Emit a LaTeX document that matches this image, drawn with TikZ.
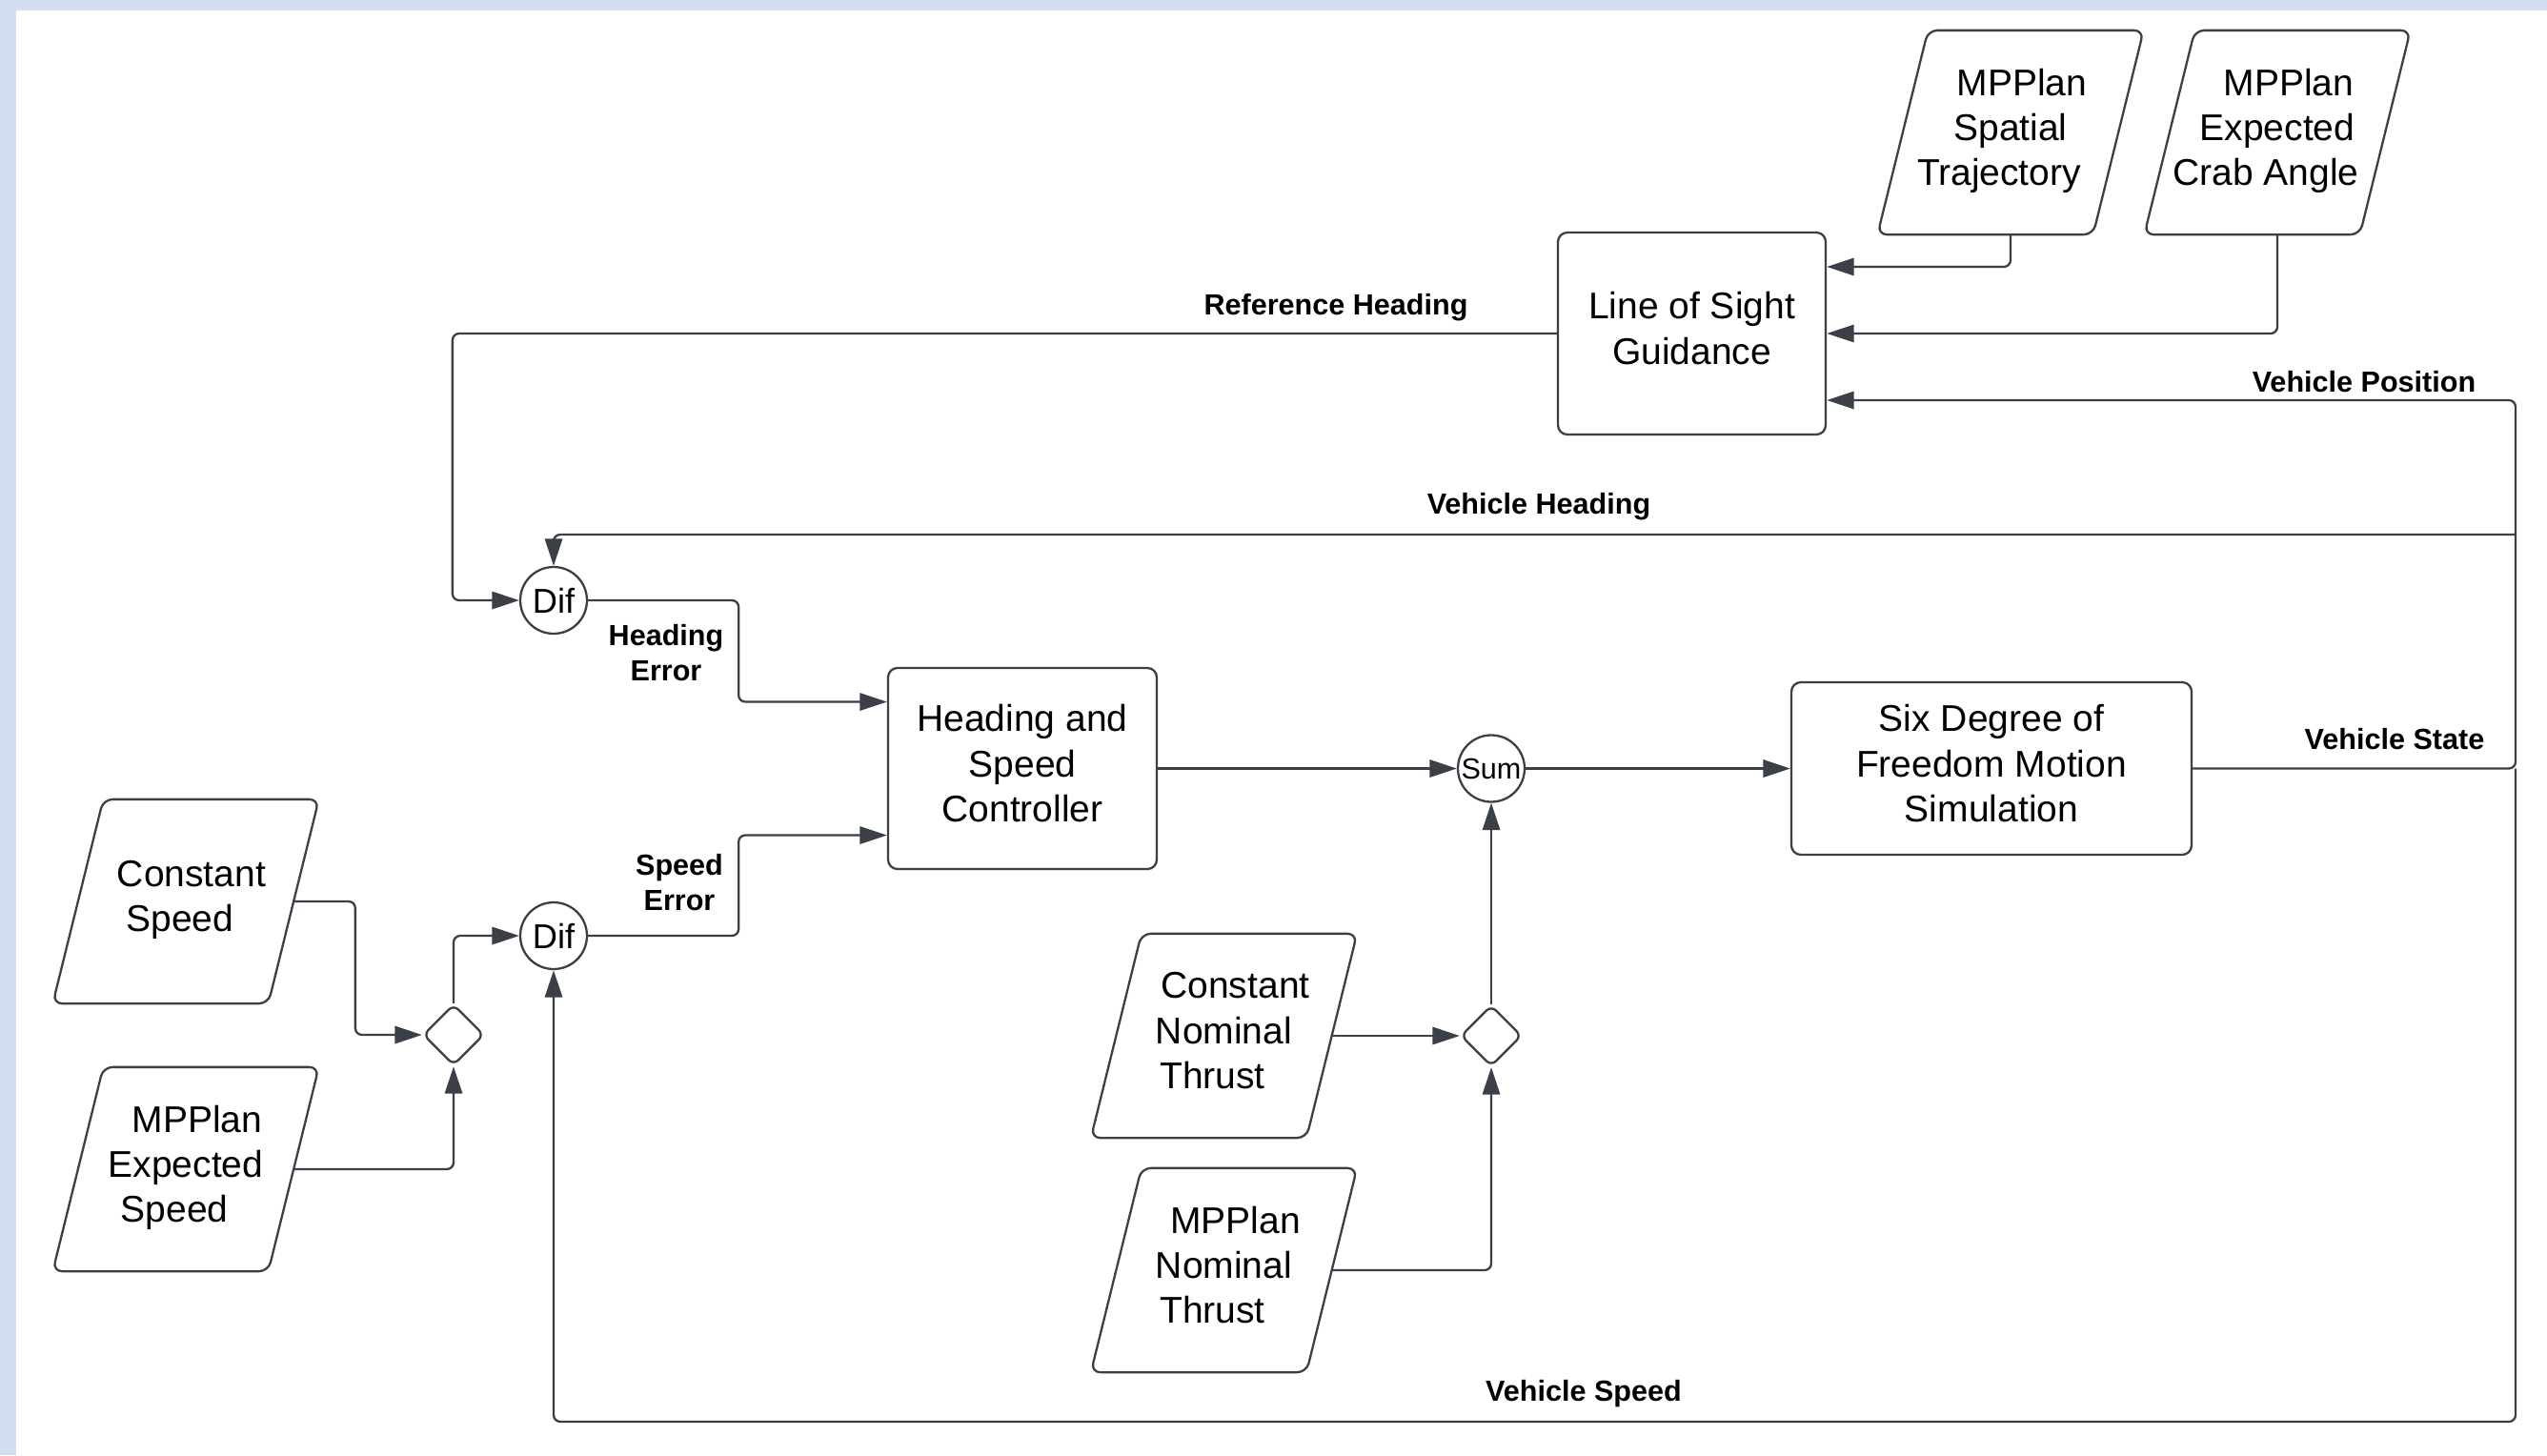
\documentclass[tikz,border=0pt]{standalone}
\usepackage{fontspec}
\setmainfont{Liberation Sans}
\usetikzlibrary{shapes.geometric,arrows.meta,calc}
\definecolor{edge}{RGB}{58,63,72}
\definecolor{frame}{RGB}{211,222,240}
% lines of a slanted box follow the slant
\newcommand{\fwd}[2][0.12cm]{\rlap{\hspace*{#1}#2}\phantom{#2}}
\newcommand{\bwd}[2][0.12cm]{\phantom{#2}\llap{#2\hspace*{#1}}}

\begin{document}
\begin{tikzpicture}[
  line width=0.65pt,
  label text/.style={align=center, text depth=3.2pt, font=\fontsize{11.1}{13.4}\selectfont},
  block/.style={label text, draw=edge, rounded corners=2.8pt},
  io/.style={label text, minimum width=2.24cm, minimum height=2.12cm, inner sep=0pt},
  joint/.style={draw=edge, circle, minimum size=0.70cm, inner sep=0pt, font=\fontsize{10.3}{12}\selectfont},
  merge/.style={draw=edge, diamond, minimum size=0.64cm, inner sep=0pt, rounded corners=2pt},
  wire/.style={draw=edge, rounded corners=2pt},
  flow/.style={wire, -{Triangle[length=8.1pt,width=5.2pt]}},
  tag/.style={font=\bfseries\fontsize{8.7}{10.5}\selectfont, align=center}
]
\fill[frame] (0,0) rectangle (26.73,-15.27);
\fill[white] (0.17,-0.11) rectangle (26.73,-15.27);
\useasboundingbox (0,0) rectangle (26.73,-15.27);

% guidance
\node[block, minimum width=2.81cm, minimum height=2.12cm] (los) at (17.755,-3.50) {Line of Sight\\Guidance};
\node[io] (traj) at (21.10,-1.39) {\fwd{MPPlan}\\Spatial\\\bwd{Trajectory}};
\node[io] (crab) at (23.90,-1.39) {\fwd{MPPlan}\\Expected\\\bwd{Crab Angle}};

% control and plant
\node[block, minimum width=2.82cm, minimum height=2.11cm] (ctrl) at (10.73,-8.065) {Heading and\\Speed\\Controller};
\node[block, minimum width=4.20cm, minimum height=1.81cm] (sim) at (20.90,-8.065) {Six Degree of\\Freedom Motion\\Simulation};
\node[joint] (dif1) at (5.81,-6.30) {Dif};
\node[joint] (dif2) at (5.81,-9.82) {Dif};
\node[joint, font=\fontsize{8.7}{10}\selectfont] (sum) at (15.65,-8.065) {Sum};
\node[merge] (jspeed) at (4.76,-10.86) {};
\node[merge] (jthrust) at (15.65,-10.87) {};

% inputs
\node[io] (cspeed) at (1.95,-9.46) {\fwd[0.06cm]{Constant}\\\bwd[0.06cm]{Speed}};
\node[io] (espeed) at (1.95,-12.27) {\fwd{MPPlan}\\Expected\\\bwd{Speed}};
\node[io] (cthrust) at (12.845,-10.87) {\fwd{Constant}\\Nominal\\\bwd{Thrust}};
\node[io] (nthrust) at (12.845,-13.33) {\fwd{MPPlan}\\Nominal\\\bwd{Thrust}};

% slanted outlines of the data boxes
\foreach \n in {traj,crab,cspeed,espeed,cthrust,nthrust}
  \draw[draw=edge, rounded corners=2.8pt] ([xshift=-2.65mm]\n.south west) -- ([xshift=2.65mm]\n.north west)
    -- ([xshift=2.65mm]\n.north east) -- ([xshift=-2.65mm]\n.south east) -- cycle;

\draw[flow] (traj.south) |- ([yshift=0.7cm]los.east);
\draw[flow] (crab.south) |- (los.east);

% feedback
\coordinate (vs) at (26.40,-8.065);
\coordinate (hd) at (26.40,-5.61);
\coordinate (sp) at (26.40,-14.92);
\draw[flow] (sim.east) -- (vs) |- ([yshift=-0.7cm]los.east);
\draw[flow] (hd) -| (dif1.north);
\draw[flow] (vs) -- (sp) -| (dif2.south);
\draw[flow] (los.west) -| ([xshift=-0.7cm]dif1.west) -- (dif1.west);

\draw[flow] (dif1.east) -- ++(1.58,0) |- ([yshift=0.7cm]ctrl.west);
\draw[flow] (dif2.east) -- ++(1.58,0) |- ([yshift=-0.7cm]ctrl.west);
\draw[flow] (cspeed.east) -| ([xshift=-0.7cm]jspeed.west) -- (jspeed.west);
\draw[flow] (espeed.east) -| (jspeed.south);
\draw[flow] (jspeed.north) |- (dif2.west);

\draw[flow] (cthrust.east) -- (jthrust.west);
\draw[flow] (nthrust.east) -| (jthrust.south);
\draw[flow] (jthrust.north) -- (sum.south);
\draw[flow] (ctrl.east) -- (sum.west);
\draw[flow] (sum.east) -- (sim.west);

% signal names
\node[tag] (lref) at (14.02,-3.23) {Reference Heading};
\node[tag] (lhead) at (16.15,-5.32) {Vehicle Heading};
\node[tag] (lpos) at (24.81,-4.01) {Vehicle Position};
\node[tag] (lstate) at (25.13,-7.76) {Vehicle State};
\node[tag] (lspeed) at (16.62,-14.63) {Vehicle Speed};
\node[tag] (lherr) at (6.99,-6.855) {Heading\\Error};
\node[tag] (lserr) at (7.13,-9.26) {Speed\\Error};
\end{tikzpicture}
\end{document}
